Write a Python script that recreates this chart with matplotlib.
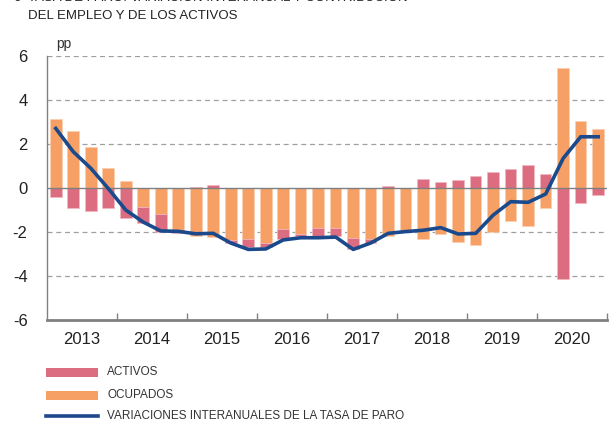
import numpy as np
import matplotlib.pyplot as plt
from matplotlib.patches import Rectangle
from matplotlib.lines import Line2D

years = ['2013', '2014', '2015', '2016', '2017', '2018', '2019', '2020']

# contribuciones trimestrales (pp), 2013T1 - 2020T4
ocupados = [3.14, 2.59, 1.88, 0.89,
            0.33, -0.85, -1.20, -1.91,
            -2.18, -2.21, -2.36, -2.30,
            -2.52, -1.88, -2.09, -1.83,
            -1.80, -2.26, -2.30, -2.18,
            -1.97, -2.32, -2.09, -2.47,
            -2.59, -2.02, -1.50, -1.73,
            -0.92, 5.44, 3.05, 2.68]
activos = [-0.39, -0.92, -1.03, -0.92,
           -1.35, -0.73, -0.78, -0.12,
           0.05, 0.12, -0.12, -0.40,
           -0.18, -0.45, -0.11, -0.37,
           -0.40, -0.50, -0.22, 0.10,
           0.02, 0.39, 0.26, 0.36,
           0.56, 0.73, 0.86, 1.06,
           0.62, -4.15, -0.70, -0.33]
tasa_paro = [2.71, 1.65, 0.90, -0.02,
             -1.00, -1.55, -1.95, -1.97,
             -2.08, -2.06, -2.50, -2.79,
             -2.77, -2.36, -2.26, -2.26,
             -2.23, -2.79, -2.50, -2.06,
             -1.98, -1.92, -1.80, -2.09,
             -2.06, -1.23, -0.62, -0.65,
             -0.27, 1.35, 2.33, 2.33]

c_act = '#dc6c80'
c_ocu = '#f7a065'
c_line = '#1b4a8c'
sans = ['Liberation Sans', 'DejaVu Sans']

ocu = np.array(ocupados)
act = np.array(activos)
x = np.arange(len(ocu))

# apilado separado para parte positiva y negativa
act_base = np.where(np.sign(act) == np.sign(ocu), ocu, 0)

fig = plt.figure(figsize=(6.16, 4.23), dpi=100)
ax = fig.add_axes([0.0763, 0.2435, 0.909, 0.624])

for y in [-4, -2, 2, 4, 6]:
    ax.axhline(y, color='#a0a0a0', lw=0.9, dashes=(4, 3), zorder=0)

w = 0.66
ax.bar(x, ocu, width=w, color=c_ocu, edgecolor='#fbd0b0', lw=0.5, zorder=2)
ax.bar(x, act, width=w, bottom=act_base, color=c_act, edgecolor='#f0b8c0',
       lw=0.5, zorder=2)
ax.axhline(0, color='#808080', lw=1.0, zorder=3)
ax.plot(x, tasa_paro, color=c_line, lw=2.6, zorder=4, solid_joinstyle='round')

ax.set_xlim(-0.5, len(x) - 0.5)
ax.set_ylim(-6, 6)
ax.set_yticks([-6, -4, -2, 0, 2, 4, 6])
ax.set_yticklabels(['-6', '-4', '-2', '0', '2', '4', '6'], family=sans,
                   fontsize=12, color='#222222')
ax.tick_params(axis='y', length=0, pad=14)
ax.set_xticks(np.arange(1, len(years) + 1) * 4 - 0.5)
ax.set_xticklabels([])
ax.tick_params(axis='x', direction='in', length=5, width=1, color='#808080')
for k, yr in enumerate(years):
    ax.text(4 * k + 1.5, -6.55, yr, ha='center', va='top', fontsize=12,
            family=sans, color='#222222')

for s in ['top', 'right']:
    ax.spines[s].set_visible(False)
ax.spines['left'].set_color('#808080')
ax.spines['left'].set_linewidth(1.0)
ax.spines['bottom'].set_color('#808080')
ax.spines['bottom'].set_linewidth(2.0)

ax.text(0.0, 6.25, 'pp', fontsize=10, family=sans, color='#333333',
        ha='left', va='bottom')

fig.text(13 / 616, 1.004, '6', fontsize=9.5, family=sans, va='center',
         color='#222222')
fig.text(28 / 616, 1.004, 'TASA DE PARO: VARIACIÓN INTERANUAL Y CONTRIBUCIÓN',
         fontsize=9.5, family=sans, va='center', color='#222222')
fig.text(28 / 616, 1 - 16 / 423, 'DEL EMPLEO Y DE LOS ACTIVOS', fontsize=9.5,
         family=sans, va='center', color='#222222')

# leyenda
labels = ['ACTIVOS', 'OCUPADOS', 'VARIACIONES INTERANUALES DE LA TASA DE PARO']
ys = [372, 395, 416]
for lab, yy, c in zip(labels[:2], ys[:2], [c_act, c_ocu]):
    fig.patches.append(Rectangle((46 / 616, 1 - (yy + 4.5) / 423), 52 / 616,
                                 9 / 423, transform=fig.transFigure,
                                 color=c, lw=0))
fig.lines.append(Line2D([46 / 616, 98 / 616], [1 - ys[2] / 423] * 2,
                        transform=fig.transFigure, color=c_line, lw=2.6))
for lab, yy in zip(labels, ys):
    fig.text(107 / 616, 1 - yy / 423, lab, fontsize=8.5, family=sans,
             va='center', ha='left', color='#333333')

fig.savefig('out.png', dpi=100)
